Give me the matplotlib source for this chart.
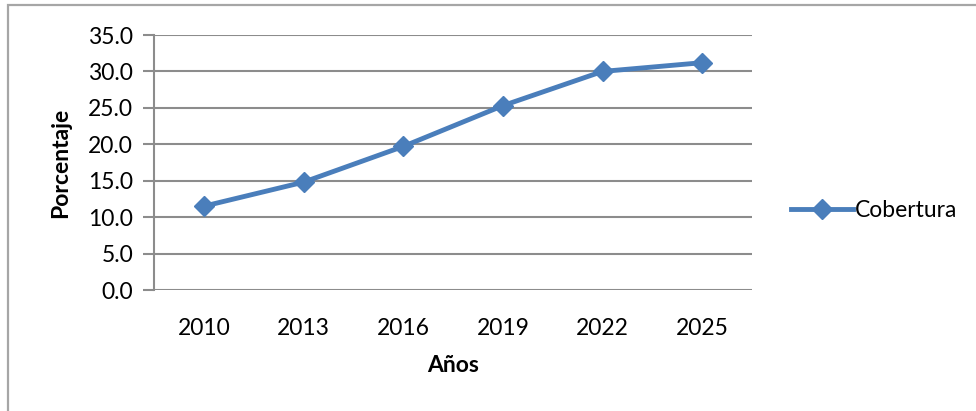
import matplotlib
matplotlib.use("Agg")
import matplotlib.pyplot as plt
from matplotlib.patches import Rectangle

years = ["2010", "2013", "2016", "2019", "2022", "2025"]
cobertura = [11.5, 14.8, 19.7, 25.3, 30.0, 31.2]
yticks = [0, 5, 10, 15, 20, 25, 30, 35]

plt.rcParams['font.family'] = ['Lato', 'DejaVu Sans']
blue = '#4A7EBB'
grid = '#8C8C8C'

fig = plt.figure(figsize=(9.76, 4.11), dpi=100)
fig.patch.set_facecolor('white')
# outer chart border
fig.add_artist(Rectangle((8/976, -0.02), 1.05, (411-5)/411 + 0.02, transform=fig.transFigure,
                         fill=False, edgecolor='#A6A6A6', linewidth=1.6))

ax = fig.add_axes([154/976, 1-290/411, (752-154)/976, (290-35)/411])
x = list(range(len(years)))
ax.plot(x, cobertura, color=blue, linewidth=3.5, marker='D', markersize=10.5,
        markerfacecolor=blue, markeredgecolor=blue, label='Cobertura', zorder=3)
ax.set_xlim(-0.5, len(years) - 0.5)
ax.set_ylim(0, 35)
ax.set_yticks(yticks)
ax.set_yticklabels([f"{v:.1f}" for v in yticks])
ax.set_xticks(x)
ax.set_xticklabels(years)
for v in yticks:
    ax.axhline(v, color=grid, linewidth=1.5, zorder=1)
for s in ['top', 'right', 'bottom']:
    ax.spines[s].set_visible(False)
ax.spines['left'].set_color(grid)
ax.spines['left'].set_linewidth(1.5)
ax.tick_params(axis='y', length=8, width=1.5, color=grid, labelsize=16.5, pad=7)
ax.tick_params(axis='x', length=0, labelsize=16.5, pad=20)
ax.set_xlabel('Años', fontsize=16.5, fontweight='bold', labelpad=12)
ax.set_ylabel('Porcentaje', fontsize=16.5, fontweight='bold', labelpad=12)

leg = ax.legend(loc='center left', bbox_to_anchor=(1.05, 0.31), frameon=False,
                fontsize=16.5, handlelength=2.7, handletextpad=0.1, borderaxespad=0)

fig.savefig('out.png', dpi=100)
